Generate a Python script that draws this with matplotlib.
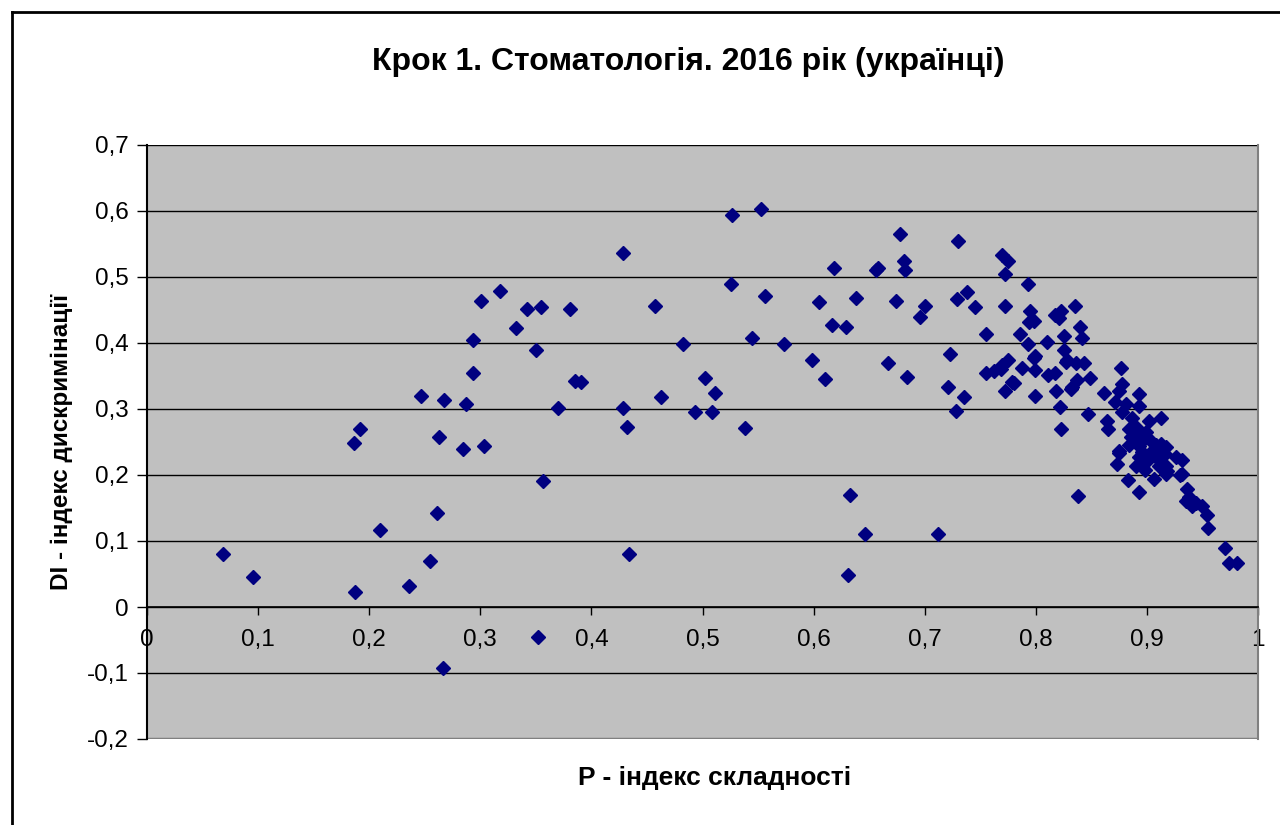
import matplotlib.pyplot as plt
from matplotlib.lines import Line2D

# P - difficulty index, DI - discrimination index
P = [0.068, 0.095, 0.186, 0.192, 0.187, 0.210, 0.236, 0.255, 0.261, 0.263,
     0.247, 0.267, 0.266, 0.284, 0.287, 0.293, 0.293, 0.303, 0.301, 0.318,
     0.332, 0.342, 0.355, 0.350, 0.356, 0.370, 0.381, 0.385, 0.391, 0.352,
     0.428, 0.457, 0.428, 0.432, 0.434, 0.463, 0.482, 0.502, 0.511, 0.493,
     0.509, 0.527, 0.553, 0.526, 0.556, 0.545, 0.538, 0.573, 0.599, 0.610,
     0.618, 0.605, 0.617, 0.629, 0.638, 0.633, 0.646, 0.631, 0.656, 0.658,
     0.678, 0.730, 0.681, 0.682, 0.770, 0.775, 0.772, 0.793, 0.674, 0.700,
     0.696, 0.729, 0.738, 0.745, 0.772, 0.755, 0.795, 0.794, 0.798, 0.786,
     0.793, 0.810, 0.817, 0.823, 0.835, 0.821, 0.825, 0.840, 0.842, 0.667,
     0.684, 0.723, 0.721, 0.735, 0.728, 0.712, 0.755, 0.762, 0.769, 0.775,
     0.770, 0.779, 0.772, 0.780, 0.788, 0.799, 0.799, 0.799, 0.798, 0.811,
     0.817, 0.818, 0.822, 0.823, 0.825, 0.828, 0.827, 0.836, 0.843, 0.837,
     0.833, 0.832, 0.849, 0.847, 0.861, 0.864, 0.865, 0.838, 0.877, 0.878,
     0.875, 0.893, 0.871, 0.881, 0.893, 0.878, 0.913, 0.887, 0.902, 0.890,
     0.896, 0.886, 0.902, 0.913, 0.893, 0.875, 0.905, 0.916, 0.926, 0.932,
     0.893, 0.890, 0.911, 0.873, 0.918, 0.906, 0.930, 0.883, 0.893, 0.936,
     0.938, 0.944, 0.950, 0.935, 0.941, 0.954, 0.955, 0.970, 0.974, 0.981,
     0.875, 0.899, 0.917, 0.932, 0.911, 0.917, 0.905, 0.911, 0.917, 0.884,
     0.899, 0.895, 0.908, 0.896, 0.884, 0.898]
DI = [0.080, 0.046, 0.248, 0.270, 0.022, 0.116, 0.032, 0.069, 0.143, 0.257,
      0.320, 0.314, -0.092, 0.240, 0.308, 0.355, 0.405, 0.244, 0.464, 0.479,
      0.423, 0.451, 0.454, 0.390, 0.191, 0.302, 0.452, 0.343, 0.341, -0.046,
      0.537, 0.456, 0.302, 0.273, 0.080, 0.318, 0.398, 0.347, 0.324, 0.295,
      0.295, 0.594, 0.603, 0.489, 0.471, 0.407, 0.271, 0.399, 0.374, 0.345,
      0.514, 0.462, 0.427, 0.425, 0.468, 0.170, 0.110, 0.048, 0.510, 0.514,
      0.565, 0.555, 0.525, 0.510, 0.533, 0.524, 0.504, 0.489, 0.464, 0.456,
      0.440, 0.466, 0.478, 0.455, 0.456, 0.413, 0.449, 0.432, 0.433, 0.414,
      0.398, 0.401, 0.442, 0.448, 0.456, 0.438, 0.411, 0.425, 0.408, 0.369,
      0.349, 0.383, 0.334, 0.318, 0.297, 0.111, 0.355, 0.358, 0.361, 0.375,
      0.367, 0.341, 0.327, 0.339, 0.362, 0.319, 0.359, 0.380, 0.378, 0.352,
      0.354, 0.328, 0.303, 0.270, 0.390, 0.374, 0.371, 0.369, 0.369, 0.344,
      0.333, 0.331, 0.347, 0.293, 0.324, 0.282, 0.270, 0.168, 0.362, 0.338,
      0.328, 0.323, 0.310, 0.308, 0.305, 0.295, 0.286, 0.287, 0.282, 0.272,
      0.262, 0.257, 0.255, 0.247, 0.244, 0.237, 0.237, 0.232, 0.227, 0.222,
      0.227, 0.214, 0.214, 0.217, 0.206, 0.194, 0.200, 0.192, 0.174, 0.179,
      0.166, 0.158, 0.153, 0.161, 0.153, 0.140, 0.119, 0.089, 0.067, 0.067,
      0.234, 0.219, 0.201, 0.201, 0.237, 0.242, 0.232, 0.222, 0.214, 0.270,
      0.265, 0.250, 0.245, 0.235, 0.246, 0.208]

x_ticks = [0, 0.1, 0.2, 0.3, 0.4, 0.5, 0.6, 0.7, 0.8, 0.9, 1]
x_labels = ["0", "0,1", "0,2", "0,3", "0,4", "0,5", "0,6", "0,7", "0,8", "0,9", "1"]
y_ticks = [-0.2, -0.1, 0, 0.1, 0.2, 0.3, 0.4, 0.5, 0.6, 0.7]
y_labels = ["-0,2", "-0,1", "0", "0,1", "0,2", "0,3", "0,4", "0,5", "0,6", "0,7"]

plt.rcParams['font.family'] = ['Liberation Sans', 'DejaVu Sans']

fig = plt.figure(figsize=(12.8, 8.25), dpi=100)
fig.patch.set_facecolor("white")

# outer chart frame (top and left edges visible)
fig.add_artist(Line2D([12 / 1280, 1], [1 - 12 / 825] * 2, color="black", lw=2))
fig.add_artist(Line2D([12 / 1280] * 2, [0, 1 - 12 / 825], color="black", lw=2))

ax = fig.add_axes([147 / 1280, 1 - 739 / 825, (1258 - 147) / 1280, (739 - 145) / 825])
ax.set_facecolor("#C0C0C0")
ax.set_xlim(0, 1)
ax.set_ylim(-0.2, 0.7)

for yv in y_ticks[1:]:
    ax.axhline(yv, color="black", lw=1.0, zorder=1)

ax.plot(P, DI, linestyle="none", marker="D", markersize=7.5,
        color="#000080", zorder=3)

ax.spines["top"].set_visible(False)
ax.spines["right"].set_color("#808080")
ax.spines["right"].set_linewidth(1.5)
ax.spines["left"].set_color("black")
ax.spines["left"].set_linewidth(1.5)
ax.spines["bottom"].set_position(("data", 0))
ax.spines["bottom"].set_color("black")
ax.spines["bottom"].set_linewidth(1.2)
ax.axhline(-0.2, color="#808080", lw=2.5, zorder=2)

ax.set_xticks(x_ticks)
ax.set_xticklabels(x_labels)
ax.set_yticks(y_ticks)
ax.set_yticklabels(y_labels)
ax.tick_params(axis="x", direction="out", length=6, width=1, pad=10,
               labelsize=17.5, colors="black")
ax.tick_params(axis="y", direction="out", length=7, width=1, pad=6,
               labelsize=17.5, colors="black")

fig.text(688 / 1280, 1 - 62 / 825, "Крок 1. Стоматологія. 2016 рік (українці)",
         ha="center", va="center", fontsize=23, fontweight="bold")
fig.text(715 / 1280, 1 - 778 / 825, "P - індекс складності",
         ha="center", va="center", fontsize=19, fontweight="bold")
fig.text(62 / 1280, 1 - 442 / 825, "DI - індекс дискримінації",
         ha="center", va="center", rotation=90, fontsize=17.5, fontweight="bold")

fig.savefig("out.png", dpi=100)
